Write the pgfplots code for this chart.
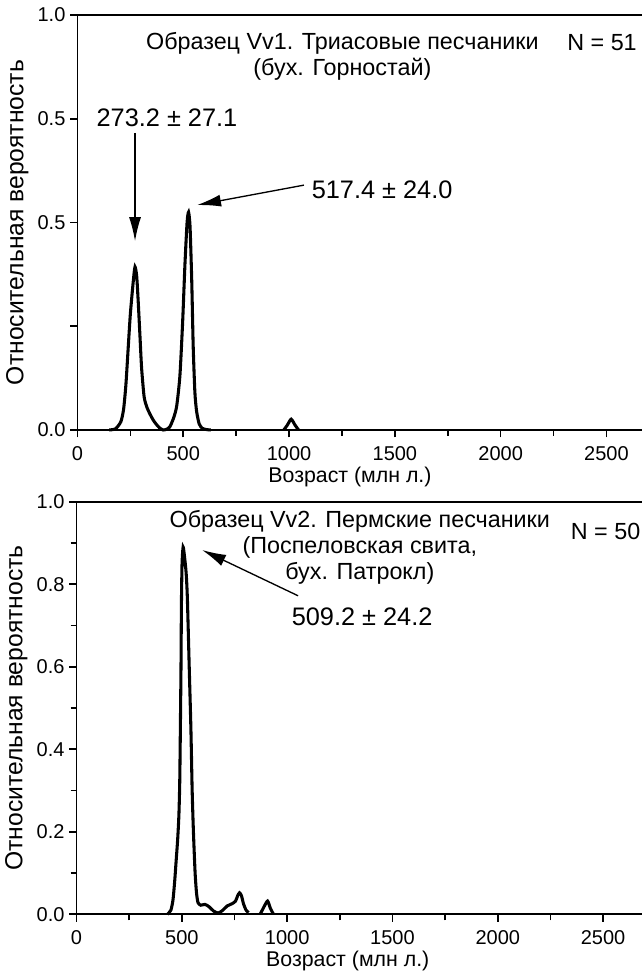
\documentclass[border=0pt]{standalone}
\usepackage{fontspec}
\setmainfont{Liberation Sans}
\usepackage{pgfplots}
\pgfplotsset{compat=1.18}
\usetikzlibrary{arrows.meta}

\pgfplotsset{
  agepanel/.style={
    scale only axis,
    xmin=0, xmax=2700, ymin=0, ymax=1,
    clip=false,
    axis line style={line width=1.3pt},
    every tick/.style={line width=1.2pt, black},
    tick align=outside,
    major tick length=5.5pt,
    minor tick length=4.5pt,
    xtick={0,500,1000,1500,2000,2500},
    minor xtick={250,750,1250,1750,2250,2750},
    xtick pos=bottom, ytick pos=left,
    /pgf/number format/assume math mode=true,
    x tick label style={font=\fontsize{15}{18}\selectfont, yshift=-3.5pt,
      /pgf/number format/set thousands separator={}},
    y tick label style={font=\fontsize{15}{18}\selectfont},
    xlabel={Возраст (млн л.)},
    ylabel={Относительная вероятность},
    every axis x label/.style={at={(ticklabel cs:0.477)}, anchor=near ticklabel,
      font=\fontsize{16}{19}\selectfont, yshift=2.5pt},
    ylabel style={font=\fontsize{18.5}{21}\selectfont},
  },
}
\tikzset{
  curve/.style={black, line width=2.3pt, smooth, tension=0.4},
  ann/.style={font=\fontsize{17.5}{19.5}\selectfont, align=center},
  peak/.style={font=\fontsize{19}{22}\selectfont},
  arr/.style={line width=1pt, -{Latex[length=18pt,width=9pt]}},
}

\begin{document}
\begin{tikzpicture}
\path[use as bounding box] (0,0) rectangle (481.5pt,730.5pt);

% ---- upper panel: Vv1
\begin{axis}[agepanel,
  at={(58.1pt,408pt)}, anchor=south west,
  width=428.5pt, height=311.25pt,
  ytick={0,0.25,0.5,0.75,1},
  yticklabels={0.0,,0.5,0.5,1.0},
]
\addplot[curve] coordinates {
 (150,0) (180,0.003) (205,0.02) (218,0.05) (229,0.11) (240,0.2) (250,0.28)
 (264,0.36) (272,0.393) (280,0.37) (287,0.31) (295,0.23) (303,0.15) (315,0.08)
 (328,0.055) (343,0.038) (358,0.024) (372,0.014) (388,0.005) (405,0)
 (422,0.002) (437,0.008) (455,0.03) (469,0.058) (484,0.13) (497,0.26)
 (508,0.4) (518,0.5) (525,0.525) (532,0.49) (540,0.36) (547,0.2) (555,0.09)
 (563,0.045) (575,0.015) (590,0.004) (610,0.001) (630,0)
};
\addplot[curve] coordinates {
 (975,0) (992,0.012) (1010,0.026) (1028,0.012) (1045,0)
};
\node[ann, anchor=center] at (axis cs:1252,0.9) {Образец Vv1. Триасовые песчаники\\(бух. Горностай)};
\node[ann, anchor=center] at (axis cs:2479,0.933) {N = 51};
\node[peak] at (axis cs:423,0.752) {273.2 ± 27.1};
\draw[arr] (axis cs:272,0.716) -- (axis cs:272,0.455);
\node[peak, anchor=west] at (axis cs:1085,0.578) {517.4 ± 24.0};
\draw[arr] (axis cs:1070,0.590) -- (axis cs:565,0.542);
\end{axis}

% ---- lower panel: Vv2
\begin{axis}[agepanel,
  at={(57.4pt,44.8pt)}, anchor=south west,
  width=426.5pt, height=309.4pt,
  ytick={0,0.2,0.4,0.6,0.8,1},
  yticklabels={0.0,0.2,0.4,0.6,0.8,1.0},
  minor ytick={0.1,0.3,0.5,0.7,0.9},
]
\addplot[curve] coordinates {
 (432,0) (448,0.01) (458,0.035) (466,0.08) (473,0.13) (480,0.18) (486,0.24)
 (490,0.32) (493,0.45) (496,0.6) (498,0.75) (501,0.85) (506,0.89) (512,0.87)
 (520,0.83) (526,0.77) (535,0.6) (543,0.45) (549,0.3) (555,0.2) (563,0.1)
 (570,0.05) (577,0.028) (590,0.022) (610,0.024) (630,0.018) (650,0.008)
 (673,0.003) (695,0.01) (715,0.02) (740,0.026) (755,0.032) (765,0.045)
 (774,0.052) (783,0.045) (793,0.025) (805,0.01) (817,0.004)
};
\addplot[curve] coordinates {
 (872,0) (890,0.018) (907,0.032) (920,0.015) (935,0)
};
\node[ann, anchor=center] at (axis cs:1345,0.889) {Образец Vv2. Пермские песчаники\\(Поспеловская свита,\\бух. Патрокл)};
\node[ann, anchor=west] at (axis cs:2325,0.927) {N = 50};
\node[peak] at (axis cs:1356,0.721) {509.2 ± 24.2};
\draw[arr] (axis cs:1052,0.772) -- (axis cs:596,0.883);
\end{axis}
\end{tikzpicture}
\end{document}
